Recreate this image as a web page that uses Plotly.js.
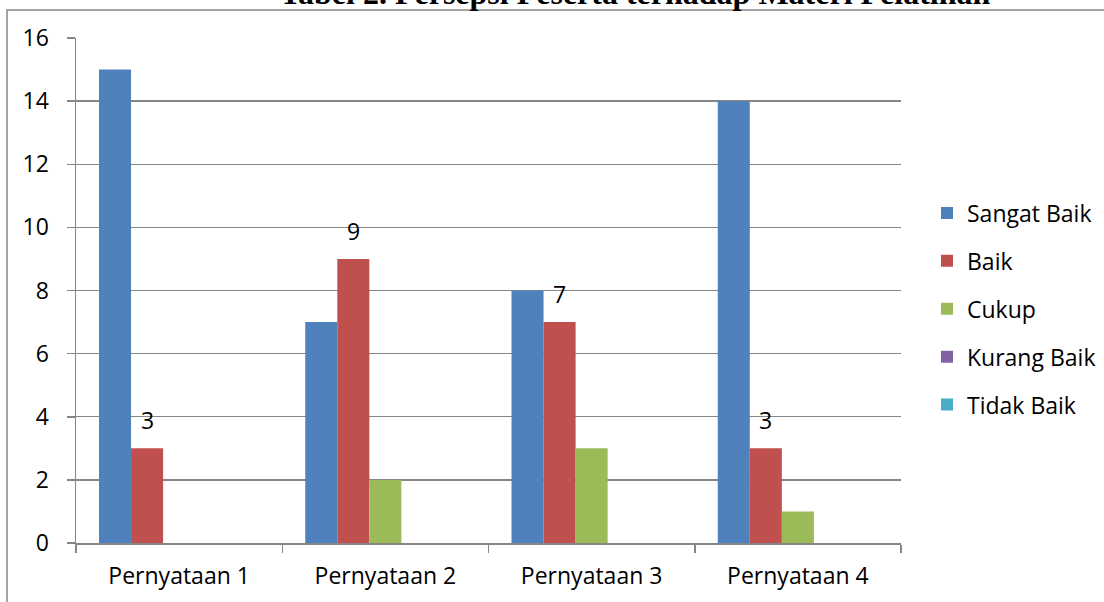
<!DOCTYPE html>
<html>
<head>
<meta charset="utf-8">
<script src="https://cdn.plot.ly/plotly-3.0.1.min.js"></script>
<style>
  html, body { margin: 0; padding: 0; background: #ffffff; }
  #chart { width: 1104px; height: 602px; }
</style>
</head>
<body>
<div id="chart"></div>
<script>
// ---- data ----
const categories = ["Pernyataan 1", "Pernyataan 2", "Pernyataan 3", "Pernyataan 4"];
const seriesNames = ["Sangat Baik", "Baik", "Cukup", "Kurang Baik", "Tidak Baik"];
const sangatBaik = [15, 7, 8, 14];
const baik = [3, 9, 7, 3];
const cukup = [0, 2, 3, 1];
const kurangBaik = [0, 0, 0, 0];
const tidakBaik = [0, 0, 0, 0];
const labeledSeries = baik; // data labels shown on "Baik" bars
const yTickVals = [0, 2, 4, 6, 8, 10, 12, 14, 16];
const chartTitle = "Tabel 2. Persepsi Peserta terhadap Materi Pelatihan";

// ---- styles ----
const colors = ["#4F81BD", "#C0504D", "#9BBB59", "#8064A2", "#4BACC6"];
const gray = "#868686";
const font = "'Open Sans', 'Noto Sans', sans-serif";
const fs = 23;

const allValues = [sangatBaik, baik, cukup, kurangBaik, tidakBaik];
const traces = allValues.map((vals, i) => ({
  type: "bar",
  name: seriesNames[i],
  x: categories,
  y: vals,
  marker: { color: colors[i] },
  legendgroup: "g" + i,
  hoverinfo: "x+y+name"
}));

// Layout geometry
const W = 1104, H = 602;
const L = 76, R = 203, T = 38, B = 59;
const plotW = W - L - R;
const plotH = H - T - B;
const bargap = 0.223;
const barW = (plotW / categories.length) * (1 - bargap) / seriesNames.length;
const baikIndex = 1;
const xOff = (baikIndex - (seriesNames.length - 1) / 2) * barW;

const annotations = categories.map((c, k) => ({
  x: c, y: labeledSeries[k], xref: "x", yref: "y",
  text: String(labeledSeries[k]),
  showarrow: false, xanchor: "center", yanchor: "bottom",
  xshift: xOff, yshift: 10,
  font: { family: font, size: fs, color: "#000" }
}));

const layout = {
  width: W, height: H,
  margin: { l: L, r: R, t: T, b: B, pad: 0 },
  paper_bgcolor: "#ffffff",
  plot_bgcolor: "#ffffff",
  barmode: "group",
  bargap: bargap,
  bargroupgap: 0,
  font: { family: font, size: fs, color: "#000" },
  title: {
    text: "<b>" + chartTitle + "</b>",
    font: { family: "'Liberation Serif', 'Times New Roman', serif", size: 32, color: "#000" },
    xref: "container", yref: "container",
    x: 635 / W, xanchor: "center",
    y: 1 - 4 / H, yanchor: "bottom"
  },
  xaxis: {
    type: "category",
    showgrid: false,
    showline: true, linecolor: gray, linewidth: 1.5,
    ticks: "outside", tickson: "boundaries", ticklen: 8, tickwidth: 1.5, tickcolor: gray,
    tickfont: { family: font, size: fs, color: "#000" },
    ticklabelstandoff: 12,
    zeroline: false,
    fixedrange: true
  },
  yaxis: {
    range: [0, 16],
    tickvals: yTickVals,
    showgrid: true, gridcolor: gray, gridwidth: 1.3,
    showline: true, linecolor: gray, linewidth: 1.5,
    ticks: "outside", ticklen: 8, tickwidth: 1.5, tickcolor: gray,
    tickfont: { family: font, size: fs, color: "#000" },
    ticklabelstandoff: 13,
    zeroline: false,
    fixedrange: true
  },
  legend: {
    x: 927 / W, xref: "container", xanchor: "left",
    y: (543 - 309) / plotH, yref: "paper", yanchor: "middle",
    font: { family: font, size: fs, color: "#000" },
    tracegroupgap: 15,
    itemwidth: 30,
    bgcolor: "rgba(0,0,0,0)"
  },
  annotations: annotations,
  shapes: [{
    type: "rect", xref: "paper", yref: "paper",
    x0: (7 - L) / plotW, x1: (W + 20 - L) / plotW,
    y0: -(B + 20) / plotH, y1: 1 + (T - 10) / plotH,
    line: { color: gray, width: 1.5 }, fillcolor: "rgba(0,0,0,0)", layer: "below"
  }],
  showlegend: true
};

Plotly.newPlot("chart", traces, layout, { displayModeBar: false, staticPlot: true });
</script>
</body>
</html>
